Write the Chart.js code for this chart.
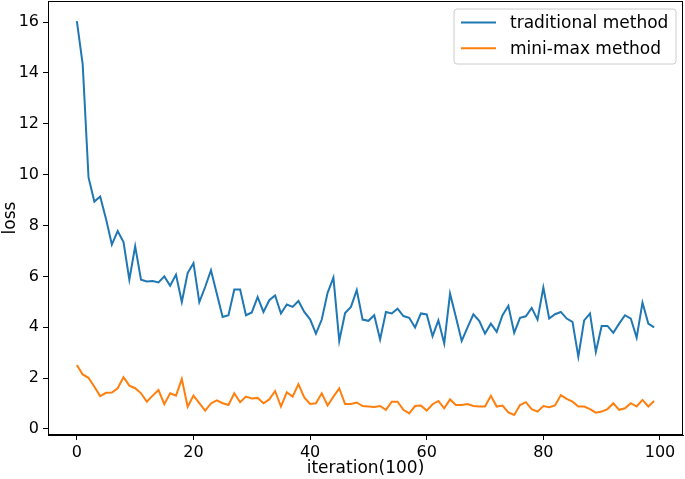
<!DOCTYPE html>
<html>
<head>
<meta charset="utf-8">
<script src="https://cdn.jsdelivr.net/npm/chart.js@4"></script>
<style>
html,body{margin:0;padding:0;background:#fff;}
#wrap{width:685px;height:479px;position:relative;}
</style>
</head>
<body>
<div id="wrap"><canvas id="c" width="685" height="479"></canvas></div>
<script>
const iterations = Array.from({length: 100}, (_, i) => i);
const traditional = [
16.04,14.34,9.89,8.94,9.14,8.26,7.25,7.78,7.35,5.87,
7.18,5.87,5.80,5.82,5.76,6.00,5.63,6.07,4.99,6.13,
6.52,4.99,5.58,6.24,5.32,4.40,4.47,5.48,5.48,4.47,
4.58,5.19,4.60,5.06,5.25,4.54,4.89,4.80,5.03,4.60,
4.31,3.75,4.30,5.35,5.95,3.46,4.56,4.80,5.46,4.30,
4.25,4.47,3.52,4.60,4.54,4.73,4.44,4.37,3.99,4.54,
4.50,3.65,4.27,3.36,5.32,4.40,3.46,3.99,4.51,4.25,
3.75,4.14,3.82,4.47,4.84,3.78,4.37,4.43,4.76,4.30,
5.56,4.34,4.51,4.60,4.34,4.21,2.84,4.27,4.54,3.03,
4.05,4.05,3.78,4.14,4.47,4.34,3.59,4.97,4.14,3.99
];
const minimax = [
2.51,2.14,2.01,1.66,1.29,1.42,1.43,1.60,2.03,1.70,
1.60,1.40,1.07,1.31,1.53,0.97,1.40,1.31,1.96,0.87,
1.31,1.01,0.72,1.00,1.12,1.01,0.94,1.40,1.05,1.27,
1.20,1.22,1.01,1.16,1.49,0.88,1.44,1.27,1.76,1.24,
0.98,1.01,1.40,0.92,1.27,1.59,0.98,0.98,1.04,0.90,
0.88,0.86,0.90,0.75,1.07,1.07,0.75,0.61,0.90,0.92,
0.72,0.97,1.10,0.81,1.16,0.94,0.94,0.98,0.90,0.88,
0.88,1.30,0.88,0.92,0.65,0.55,0.94,1.05,0.78,0.68,
0.90,0.85,0.92,1.33,1.18,1.07,0.88,0.88,0.78,0.64,
0.68,0.78,1.01,0.75,0.81,1.01,0.88,1.14,0.88,1.10
];
const seriesNames = ['traditional method', 'mini-max method'];
const seriesColors = ['#1f77b4', '#ff7f0e'];
const xTicks = [0, 20, 40, 60, 80, 100];
const yTicks = [0, 2, 4, 6, 8, 10, 12, 14, 16];

const FONT = "'DejaVu Sans', sans-serif";

const framePlugin = {
  id: 'frame',
  afterDatasetsDraw(chart) {
    const {ctx, chartArea: a} = chart;
    ctx.save();
    ctx.strokeStyle = '#000';
    ctx.lineWidth = 1;
    ctx.strokeRect(Math.round(a.left) + 0.5, Math.round(a.top) + 0.5,
                   Math.round(a.right - a.left) - 1, Math.round(a.bottom - a.top) - 1);
    ctx.restore();
  }
};

const legendPlugin = {
  id: 'mplLegend',
  afterDraw(chart) {
    const ctx = chart.ctx;
    const x0 = 454, y0 = 9, w = 222, h = 55, r = 3;
    ctx.save();
    ctx.beginPath();
    ctx.moveTo(x0 + r, y0);
    ctx.lineTo(x0 + w - r, y0);
    ctx.arcTo(x0 + w, y0, x0 + w, y0 + r, r);
    ctx.lineTo(x0 + w, y0 + h - r);
    ctx.arcTo(x0 + w, y0 + h, x0 + w - r, y0 + h, r);
    ctx.lineTo(x0 + r, y0 + h);
    ctx.arcTo(x0, y0 + h, x0, y0 + h - r, r);
    ctx.lineTo(x0, y0 + r);
    ctx.arcTo(x0, y0, x0 + r, y0, r);
    ctx.closePath();
    ctx.fillStyle = 'rgba(255,255,255,0.8)';
    ctx.fill();
    ctx.strokeStyle = '#cccccc';
    ctx.lineWidth = 1;
    ctx.stroke();
    chart.data.datasets.forEach((ds, i) => {
      const yy = 22.5 + i * 25.8;
      ctx.beginPath();
      ctx.moveTo(461, yy);
      ctx.lineTo(496, yy);
      ctx.strokeStyle = ds.borderColor;
      ctx.lineWidth = 2;
      ctx.stroke();
      ctx.fillStyle = '#000';
      ctx.font = '17px ' + FONT;
      ctx.textBaseline = 'middle';
      ctx.textAlign = 'left';
      ctx.fillText(ds.label, 510, yy + 1);
    });
    ctx.restore();
  }
};

const datasets = [traditional, minimax].map((vals, i) => ({
  label: seriesNames[i],
  data: vals.map((v, k) => ({x: iterations[k], y: v})),
  borderColor: seriesColors[i],
  backgroundColor: seriesColors[i],
  borderWidth: 2,
  pointRadius: 0,
  tension: 0,
  fill: false
}));

new Chart(document.getElementById('c'), {
  type: 'line',
  data: {datasets},
  options: {
    responsive: false,
    animation: false,
    layout: {padding: {top: 1, right: 2, left: 0, bottom: 0}},
    plugins: {legend: {display: false}, tooltip: {enabled: false}},
    scales: {
      x: {
        type: 'linear',
        min: -4.95,
        max: 103.95,
        afterBuildTicks(scale) { scale.ticks = xTicks.map(v => ({value: v})); },
        afterFit(scale) { scale.height = 44; scale.paddingLeft = 0; scale.paddingRight = 0; },
        grid: {display: true, drawOnChartArea: false, drawTicks: true, tickLength: 5, color: '#000'},
        border: {display: true, color: '#000', width: 1},
        ticks: {color: '#000', font: {family: FONT, size: 16}, padding: 3, maxRotation: 0, autoSkip: false},
        title: {display: true, text: 'iteration(100)', color: '#000', font: {family: FONT, size: 17}, padding: {top: 2, bottom: 0}}
      },
      y: {
        type: 'linear',
        min: -0.24,
        max: 16.83,
        afterBuildTicks(scale) { scale.ticks = yTicks.map(v => ({value: v})); },
        afterFit(scale) { scale.width = 48; scale.paddingTop = 0; scale.paddingBottom = 0; },
        grid: {display: true, drawOnChartArea: false, drawTicks: true, tickLength: 5, color: '#000'},
        border: {display: true, color: '#000', width: 1},
        ticks: {color: '#000', font: {family: FONT, size: 16}, padding: 4, autoSkip: false},
        title: {display: true, text: 'loss', color: '#000', font: {family: FONT, size: 17}, padding: {top: 0, bottom: 1}}
      }
    }
  },
  plugins: [framePlugin, legendPlugin]
});
</script>
</body>
</html>
